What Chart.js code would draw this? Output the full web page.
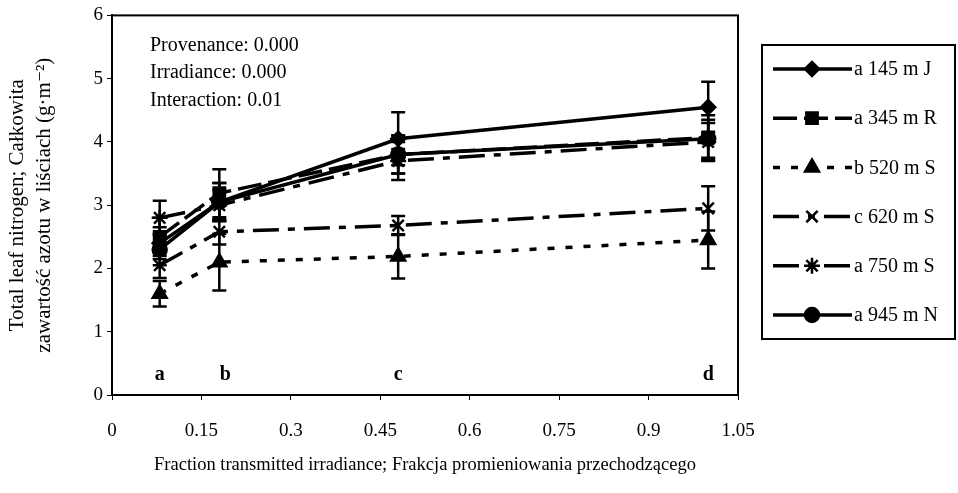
<!DOCTYPE html>
<html>
<head>
<meta charset="utf-8">
<script src="https://cdn.jsdelivr.net/npm/chart.js@4"></script>
<style>
  html, body { margin: 0; padding: 0; background: #fff; }
  #wrap { width: 958px; height: 493px; }
</style>
</head>
<body>
<div id="wrap"><canvas id="nChart" width="958" height="493"></canvas></div>
<script>
// Fraction of transmitted irradiance for the four light levels
const irradiance = [0.08, 0.18, 0.48, 1.0];
const levelLetters = ['a', 'b', 'c', 'd'];
const letterX = [0.08, 0.19, 0.48, 1.0];

const seriesNames = ['a 145 m J', 'a 345 m R', 'b 520 m S', 'c 620 m S', 'a 750 m S', 'a 945 m N'];

// Total leaf nitrogen (g m-2) and error bars
const n145J = [2.4, 3.05, 4.05, 4.55];
const n345R = [2.5, 3.19, 3.8, 4.07];
const n520S = [1.6, 2.1, 2.19, 2.45];
const n620S = [2.05, 2.58, 2.68, 2.95];
const n750S = [2.8, 3.0, 3.7, 4.0];
const n945N = [2.3, 3.05, 3.8, 4.05];

const e145J = [0.25, 0.3, 0.42, 0.4];
const e345R = [0.3, 0.38, 0.3, 0.35];
const e520S = [0.2, 0.45, 0.35, 0.45];
const e620S = [0.2, 0.2, 0.15, 0.35];
const e750S = [0.27, 0.25, 0.3, 0.3];
const e945N = [0.25, 0.3, 0.3, 0.3];

const statLines = ['Provenance: 0.000', 'Irradiance: 0.000', 'Interaction: 0.01'];

const serif = "'Liberation Serif', 'DejaVu Serif', serif";

function pts(values) {
  return values.map((v, i) => ({ x: irradiance[i], y: v }));
}

function series(label, values, errs, pointStyle, radius, dash) {
  return {
    label: label,
    data: pts(values),
    errors: errs,
    showLine: true,
    borderColor: '#000',
    backgroundColor: '#000',
    borderWidth: 3.5,
    borderDash: dash,
    pointStyle: pointStyle,
    pointRadius: radius,
    pointBorderWidth: 2.5,
    pointBorderColor: '#000',
    pointBackgroundColor: '#000',
    tension: 0
  };
}

const datasets = [
  series(seriesNames[0], n145J, e145J, 'rectRot', 7, []),
  series(seriesNames[1], n345R, e345R, 'rect', 8, [24, 7]),
  series(seriesNames[2], n520S, e520S, 'triangle', 8, [7, 11]),
  series(seriesNames[3], n620S, e620S, 'crossRot', 8, [26, 9, 7, 9]),
  series(seriesNames[4], n750S, e750S, 'star', 8, [26, 9, 7, 9]),
  series(seriesNames[5], n945N, e945N, 'circle', 7, [])
];

// error bars drawn through the scales
const errorBars = {
  id: 'errorBars',
  beforeDatasetsDraw(chart) {
    const ctx = chart.ctx;
    const xs = chart.scales.x, ys = chart.scales.y;
    ctx.save();
    ctx.strokeStyle = '#000';
    ctx.lineWidth = 2.5;
    ctx.setLineDash([]);
    chart.data.datasets.forEach(ds => {
      ds.data.forEach((p, i) => {
        const e = ds.errors[i];
        const px = xs.getPixelForValue(p.x);
        const top = ys.getPixelForValue(p.y + e);
        const bot = ys.getPixelForValue(p.y - e);
        ctx.beginPath();
        ctx.moveTo(px, top); ctx.lineTo(px, bot);
        ctx.moveTo(px - 7, top); ctx.lineTo(px + 7, top);
        ctx.moveTo(px - 7, bot); ctx.lineTo(px + 7, bot);
        ctx.stroke();
      });
    });
    ctx.restore();
  }
};

// frame, stats text, level letters and the boxed legend
const decorations = {
  id: 'decorations',
  afterDraw(chart) {
    const ctx = chart.ctx;
    const a = chart.chartArea;
    const xs = chart.scales.x, ys = chart.scales.y;
    ctx.save();
    ctx.strokeStyle = '#000';
    ctx.lineWidth = 2;
    ctx.setLineDash([]);
    ctx.strokeRect(a.left, a.top, a.right - a.left, a.bottom - a.top);

    ctx.fillStyle = '#000';
    ctx.font = '20px ' + serif;
    ctx.textBaseline = 'middle';
    ctx.textAlign = 'left';
    statLines.forEach((t, i) => ctx.fillText(t, a.left + 38, a.top + 30 + i * 27.5));

    ctx.font = 'bold 20px ' + serif;
    ctx.textAlign = 'center';
    levelLetters.forEach((t, i) => ctx.fillText(t, xs.getPixelForValue(letterX[i]), ys.getPixelForValue(0.32)));

    // legend box
    const lx = 762, ly = 45, lw = 193, lh = 294;
    ctx.lineWidth = 2;
    ctx.strokeRect(lx, ly, lw, lh);
    ctx.font = '20px ' + serif;
    ctx.textAlign = 'left';
    chart.data.datasets.forEach((ds, i) => {
      const y = ly + 24 + i * 49.2;
      ctx.beginPath();
      ctx.lineWidth = 3.5;
      ctx.setLineDash(ds.borderDash);
      ctx.moveTo(773, y); ctx.lineTo(852, y);
      ctx.stroke();
      ctx.setLineDash([]);
      ctx.lineWidth = 2.5;
      Chart.helpers.drawPoint(ctx, { pointStyle: ds.pointStyle, radius: ds.pointRadius, borderWidth: 2.5, rotation: 0 }, 812, y);
      ctx.fillText(ds.label, 854, y + 1);
    });
    ctx.restore();
  }
};

new Chart(document.getElementById('nChart').getContext('2d'), {
  type: 'scatter',
  data: { datasets: datasets },
  plugins: [errorBars, decorations],
  options: {
    responsive: false,
    animation: false,
    layout: { padding: { left: 0, right: 220, top: 15, bottom: 17 } },
    plugins: { legend: { display: false }, tooltip: { enabled: false } },
    scales: {
      x: {
        type: 'linear',
        min: 0,
        max: 1.05,
        afterFit(scale) { scale.height = 81; },
        ticks: {
          stepSize: 0.15,
          color: '#000',
          padding: 20,
          font: { family: serif, size: 19 },
          callback: v => String(Math.round(v * 100) / 100)
        },
        grid: { drawOnChartArea: false, tickLength: 5, color: '#000' },
        border: { color: '#000', width: 2 },
        title: {
          display: true,
          text: 'Fraction transmitted irradiance; Frakcja promieniowania przechodzącego',
          color: '#000',
          font: { family: serif, size: 18.5 },
          padding: { top: 12, bottom: 0 }
        }
      },
      y: {
        min: 0,
        max: 6,
        afterFit(scale) { scale.width = 112; },
        ticks: {
          stepSize: 1,
          color: '#000',
          padding: 4,
          font: { family: serif, size: 19 }
        },
        grid: { drawOnChartArea: false, tickLength: 5, color: '#000' },
        border: { color: '#000', width: 2 },
        title: {
          display: true,
          text: ['Total leaf nitrogen; Całkowita', 'zawartość azotu w liściach (g·m⁻²)'],
          color: '#000',
          font: { family: serif, size: 21, lineHeight: 1.3 },
          padding: { top: 4, bottom: 0 }
        }
      }
    }
  }
});
</script>
</body>
</html>
